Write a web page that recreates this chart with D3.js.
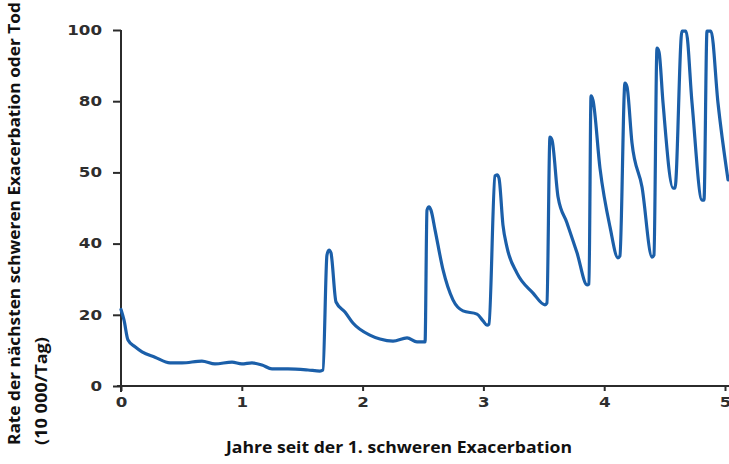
<!DOCTYPE html>
<html>
<head>
<meta charset="utf-8">
<script src="https://cdn.jsdelivr.net/npm/d3@7"></script>
<style>
  html, body { margin: 0; padding: 0; background: #ffffff; }
  svg { display: block; }
</style>
</head>
<body>
<svg id="chart" width="729" height="464"></svg>
<script>
// ---- data ----
const years = [0.0, 0.025, 0.058, 0.116, 0.174, 0.281, 0.406, 0.505, 0.67, 0.778, 0.919, 1.0, 1.084, 1.167, 1.25, 1.382, 1.548, 1.647, 1.672,
  1.705, 1.722, 1.738, 1.78, 1.854, 1.92, 2.06, 2.144, 2.252, 2.368, 2.45, 2.517,
  2.533, 2.55, 2.566, 2.6, 2.666, 2.748, 2.831, 2.947, 2.997, 3.03, 3.046,
  3.096, 3.113, 3.129, 3.162, 3.195, 3.278, 3.411, 3.51, 3.526,
  3.551, 3.568, 3.618, 3.692, 3.775, 3.858, 3.874,
  3.891, 3.907, 3.965, 4.048, 4.114, 4.13,
  4.172, 4.189, 4.23, 4.313, 4.396, 4.412,
  4.437, 4.454, 4.487, 4.57, 4.586,
  4.644, 4.677, 4.727, 4.81, 4.826,
  4.851, 4.884, 4.942, 5.025];
const rate = [21.5, 18.5, 12.9, 11.0, 9.6, 8.1, 6.5, 6.5, 7.0, 6.2, 6.7, 6.2, 6.5, 5.9, 4.8, 4.8, 4.5, 4.2, 4.5,
  36.8, 38.2, 37.4, 23.6, 20.8, 17.7, 14.3, 13.2, 12.6, 13.5, 12.4, 12.4,
  49.4, 50.3, 49.4, 43.8, 32.6, 24.2, 21.1, 20.2, 18.3, 17.1, 17.4,
  59.0, 59.3, 58.4, 45.2, 39.0, 31.7, 26.1, 22.8, 23.3,
  69.9, 69.1, 53.1, 45.8, 37.4, 28.4, 28.7,
  81.5, 80.3, 61.2, 44.7, 36.0, 36.5,
  85.1, 84.0, 68.3, 55.9, 36.2, 36.8,
  94.9, 93.8, 79.5, 55.6, 55.6,
  99.7, 99.7, 79.5, 52.2, 52.2,
  99.7, 99.7, 79.5, 57.9];
const xTickValues = [0, 1, 2, 3, 4, 5];
const xTickLabels = ["0", "1", "2", "3", "4", "5"];
const yTickValues = [0, 20, 40, 60, 80, 100];
const yTickLabels = ["0", "20", "40", "50", "80", "100"];
const xTitle = "Jahre seit der 1. schweren Exacerbation";
const yTitle1 = "Rate der nächsten schweren Exacerbation oder Tod";
const yTitle2 = "(10 000/Tag)";

// ---- layout ----
const W = 729, H = 464;
const svg = d3.select("#chart");
const x = d3.scaleLinear().domain([0, 5]).range([121, 725]);
const y = d3.scaleLinear().domain([0, 100]).range([386, 30]);
const axisColor = "#2b2b2b";
const labelColor = "#2e2e2e";

// y axis
const gy = svg.append("g").attr("transform", `translate(${x(0)},0)`)
  .call(d3.axisLeft(y).tickValues(yTickValues)
    .tickFormat((d, i) => yTickLabels[i]).tickSize(8).tickPadding(11));
gy.select(".domain").remove();
gy.selectAll(".tick line").attr("stroke", axisColor).attr("stroke-width", 2);
gy.selectAll(".tick text")
  .attr("fill", labelColor)
  .style("font-family", "'DejaVu Sans', Verdana, sans-serif")
  .style("font-size", "13.5px")
  .style("font-weight", "bold")
  .attr("textLength", function () { return this.textContent.length * 11.6; })
  .attr("lengthAdjust", "spacingAndGlyphs");
svg.append("line")
  .attr("x1", x(0)).attr("x2", x(0))
  .attr("y1", y(100)).attr("y2", y(0) + 6)
  .attr("stroke", axisColor).attr("stroke-width", 2);

// x axis
const gx = svg.append("g").attr("transform", `translate(0,${y(0)})`)
  .call(d3.axisBottom(x).tickValues(xTickValues)
    .tickFormat((d, i) => xTickLabels[i]).tickSize(5).tickPadding(6));
gx.select(".domain").remove();
gx.selectAll(".tick line").attr("stroke", axisColor).attr("stroke-width", 2);
gx.selectAll(".tick text")
  .attr("fill", labelColor)
  .style("font-family", "'DejaVu Sans', Verdana, sans-serif")
  .style("font-size", "13.5px")
  .style("font-weight", "bold")
  .attr("textLength", function () { return this.textContent.length * 11.6; })
  .attr("lengthAdjust", "spacingAndGlyphs");
svg.append("line")
  .attr("x1", x(0) - 4).attr("x2", W)
  .attr("y1", y(0)).attr("y2", y(0))
  .attr("stroke", axisColor).attr("stroke-width", 2);

// line
const pts = years.map((d, i) => [d, rate[i]]);
svg.append("path")
  .datum(pts)
  .attr("fill", "none")
  .attr("stroke", "#1b5fa9")
  .attr("stroke-width", 3.2)
  .attr("stroke-linejoin", "round")
  .attr("stroke-linecap", "round")
  .attr("d", d3.line().x(d => x(d[0])).y(d => y(d[1])).curve(d3.curveMonotoneX));

// titles
const titleFont = "'Open Sans', 'Noto Sans', sans-serif";
svg.append("text")
  .attr("x", 399).attr("y", 453)
  .attr("text-anchor", "middle")
  .attr("textLength", 346).attr("lengthAdjust", "spacingAndGlyphs")
  .style("font-family", titleFont).style("font-weight", "bold").style("font-size", "15.5px")
  .attr("fill", "#111")
  .text(xTitle);

svg.append("text")
  .attr("transform", "translate(20,445) rotate(-90)")
  .attr("text-anchor", "start")
  .attr("textLength", 443).attr("lengthAdjust", "spacingAndGlyphs")
  .style("font-family", titleFont).style("font-weight", "bold").style("font-size", "15.5px")
  .attr("fill", "#111")
  .text(yTitle1);
svg.append("text")
  .attr("transform", "translate(47,445) rotate(-90)")
  .attr("text-anchor", "start")
  .attr("textLength", 108).attr("lengthAdjust", "spacingAndGlyphs")
  .style("font-family", titleFont).style("font-weight", "bold").style("font-size", "15.5px")
  .attr("fill", "#111")
  .text(yTitle2);
</script>
</body>
</html>
